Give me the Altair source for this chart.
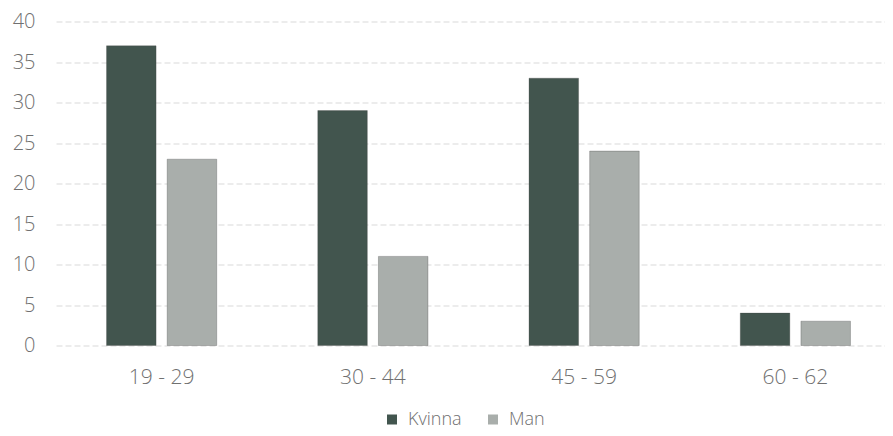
import altair as alt
import pandas as pd

categories = ["19 - 29", "30 - 44", "45 - 59", "60 - 62"]
kvinna = [37, 29, 33, 4]
man = [23, 11, 24, 3]
series = ["Kvinna", "Man"]

rows = []
for c, k, m in zip(categories, kvinna, man):
    rows.append({"Ålder": c, "Kön": "Kvinna", "Antal": k})
    rows.append({"Ålder": c, "Kön": "Man", "Antal": m})
df = pd.DataFrame(rows)

font = "Open Sans"
text_color = "#707070"

chart = alt.Chart(df).mark_bar(stroke="#444444", strokeWidth=0.6, strokeOpacity=0.5).encode(
    x=alt.X("Ålder:N", sort=categories, title=None,
            scale=alt.Scale(paddingInner=0, paddingOuter=0, range=[4, 849]),
            axis=alt.Axis(labelAngle=0, ticks=False, domain=False, labelPadding=21,
                          labelFontSize=21, labelFontWeight=300, labelColor=text_color,
                          labelFont=font)),
    xOffset=alt.XOffset("Kön:N", sort=series,
                        scale=alt.Scale(paddingInner=0.183, paddingOuter=0.833)),
    y=alt.Y("Antal:Q", title=None,
            scale=alt.Scale(domain=[0, 40]),
            axis=alt.Axis(values=[0, 5, 10, 15, 20, 25, 30, 35, 40], ticks=False, domain=False,
                          labelPadding=17, labelFontSize=20, labelFontWeight=300,
                          labelColor=text_color, labelFont=font,
                          gridColor="#d9d9d9", gridDash=[6, 3], gridWidth=1)),
    color=alt.Color("Kön:N", sort=series,
                    scale=alt.Scale(domain=series, range=["#42554e", "#a9aeab"]),
                    legend=alt.Legend(title=None, orient="none", legendX=331, legendY=389,
                                      direction="horizontal",
                                      symbolType="square", symbolSize=100, labelFontSize=18,
                                      labelFontWeight=300, labelColor=text_color,
                                      labelFont=font, columnPadding=22, labelOffset=7,
                                      symbolStrokeWidth=0)),
).properties(
    width=833, height=324,
    autosize=alt.AutoSizeParams(type="none"),
    padding={"left": 44, "top": 13.5, "right": 0, "bottom": 90},
).configure(background="white").configure_view(stroke=None)

chart.save("out.html", embed_options={"renderer": "svg", "actions": False})
